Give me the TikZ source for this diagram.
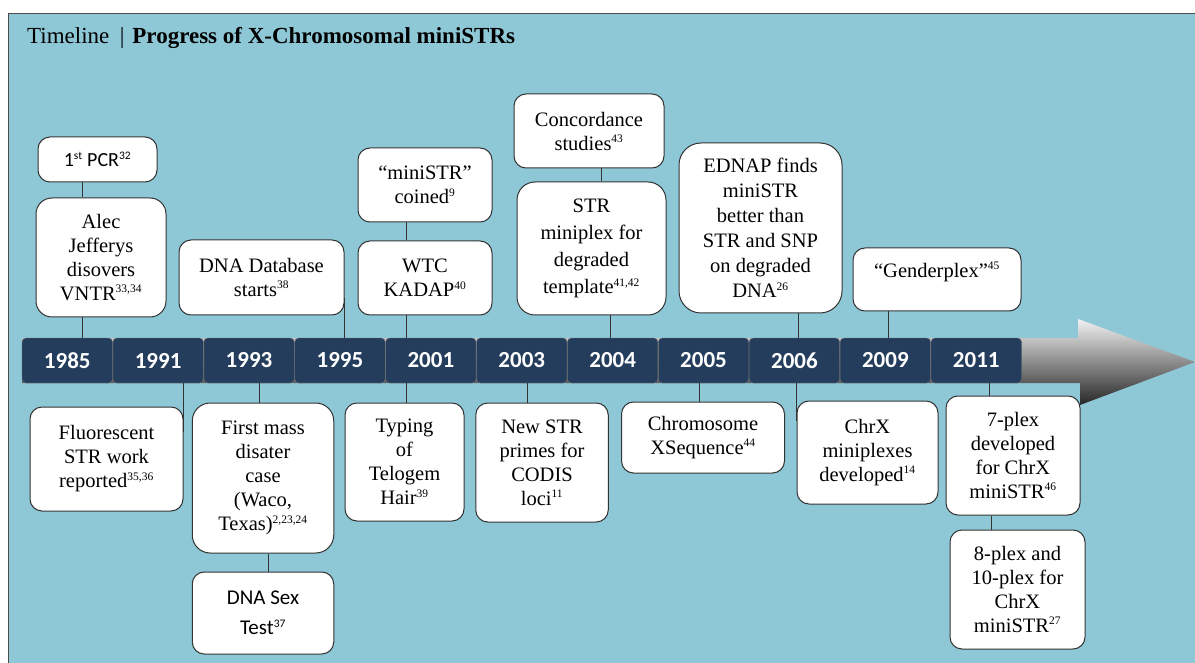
\documentclass[tikz,border=0pt]{standalone}
\usepackage{fontspec}
\setmainfont{Liberation Serif}
\newfontfamily\calfont{Carlito}
\usetikzlibrary{positioning}
\definecolor{panelblue}{RGB}{142,200,215}
\definecolor{yearnavy}{RGB}{36,61,92}
\newcommand{\refnum}[1]{\textsuperscript{\fontsize{11.5}{12}\selectfont #1}}
\tikzset{
    event/.style={
           rectangle, rounded corners=12pt,
           draw=black!80, line width=1pt,
           fill=white,
           align=center,
           inner sep=2pt,
           font=\fontsize{20.5}{24}\selectfont,
           },
}
\tikzset{
    yearbox/.style={
           rectangle, rounded corners=4pt,
           draw=black!55, thin,
           fill=yearnavy,
           minimum width=90.5pt, minimum height=45pt,
           inner sep=0pt, text=white,
           font=\calfont\bfseries\fontsize{23}{26}\selectfont,
           },
}
\tikzset{
    link/.style={
           draw=black!80, line width=1pt,
           },
}

\begin{document}
\begin{tikzpicture}[x=1pt,y=-1pt]
\useasboundingbox (0,0) rectangle (1195,663);
\fill[white] (0,0) rectangle (1195,663);
\filldraw[fill=panelblue,draw=black!70,line width=1pt] (8,14) rectangle (1215,690);
\node[anchor=base west,inner sep=0pt,font=\fontsize{23}{26}\selectfont] (title) at (27,44)
    {Timeline\hspace{0.45em}|\hspace{0.35em}\textbf{Progress of X-Chromosomal miniSTRs}};

% arrow under the years
\shade[top color=gray!10,middle color=gray!55,bottom color=black!85]
    (22,338) -- (1078,338) -- (1078,319) -- (1195,362) -- (1080,405) -- (1080,383) -- (22,383) -- cycle;

\node[yearbox](y1985) at (67.25,360.5){1985};
\node[yearbox,right=0pt of y1985](y1991){1991};
\node[yearbox,right=0pt of y1991](y1993){1993};
\node[yearbox,right=0pt of y1993](y1995){1995};
\node[yearbox,right=0pt of y1995](y2001){2001};
\node[yearbox,right=0pt of y2001](y2003){2003};
\node[yearbox,right=0pt of y2003](y2004){2004};
\node[yearbox,right=0pt of y2004](y2005){2005};
\node[yearbox,right=0pt of y2005](y2006){2006};
\node[yearbox,right=0pt of y2006](y2009){2009};
\node[yearbox,right=0pt of y2009](y2011){2011};

% above the line
\node[event,rounded corners=16pt,minimum width=130pt,minimum height=119pt](alec) at (101,257.5){Alec\\Jefferys\\disovers\\VNTR\refnum{33,34}};
\node[event,minimum width=119pt,minimum height=45pt,font=\calfont\fontsize{20}{24}\selectfont,above=15pt of alec,xshift=-3.5pt](pcr){1\refnum{st} PCR\refnum{32}};
\node[event,minimum width=165pt,minimum height=75pt](dbase) at (261.5,277.5){DNA Database\\starts\refnum{38}};
\node[event,minimum width=134pt,minimum height=74pt](wtc) at (425,278){WTC\\KADAP\refnum{40}};
\node[event,minimum width=134pt,minimum height=74pt,above=18pt of wtc](coined){“miniSTR”\\coined\refnum{9}};
\node[event,rounded corners=18pt,minimum width=149pt,minimum height=133pt,font=\fontsize{20.5}{27}\selectfont](miniplex) at (591.5,248.5){STR\\miniplex for\\degraded\\template\refnum{41,42}};
\node[event,minimum width=150pt,minimum height=74pt,above=13pt of miniplex,xshift=-2.5pt](concord){Concordance\\studies\refnum{43}};
\node[event,rounded corners=22pt,minimum width=163pt,minimum height=170pt,font=\fontsize{20.5}{25}\selectfont](ednap) at (760.5,228){EDNAP finds\\miniSTR\\better than\\STR and SNP\\on degraded\\DNA\refnum{26}};
\node[event,minimum width=168pt,minimum height=63pt,text depth=20pt](gender) at (937,279.5){“Genderplex”\refnum{45}};

% below the line
\node[event,minimum width=153pt,minimum height=104pt](fluor) at (106.5,459){Fluorescent\\STR work\\reported\refnum{35,36}};
\node[event,rounded corners=18pt,minimum width=141.5pt,minimum height=150pt](mass) at (263,478){First mass\\disater\\case\\(Waco,\\Texas)\refnum{2,23,24}};
\node[event,minimum width=141.5pt,minimum height=82pt,font=\calfont\fontsize{21}{30}\selectfont,below=18pt of mass](sextest){DNA Sex\\Test\refnum{37}};
\node[event,minimum width=119pt,minimum height=118pt](telogen) at (404.5,462){Typing\\of\\Telogem\\Hair\refnum{39}};
\node[event,minimum width=132.5pt,minimum height=119pt](primes) at (542,462.5){New STR\\primes for\\CODIS\\loci\refnum{11}};
\node[event,minimum width=163pt,minimum height=71pt](xseq) at (703,437.5){Chromosome\\XSequence\refnum{44}};
\node[event,minimum width=141pt,minimum height=103pt](chrx) at (867.5,452.5){ChrX\\miniplexes\\developed\refnum{14}};
\node[event,minimum width=134pt,minimum height=119pt](seven) at (1013,455.5){7-plex\\developed\\for ChrX\\miniSTR\refnum{46}};
\node[event,minimum width=135pt,minimum height=119pt,below=14pt of seven,xshift=4.5pt](eight){8-plex and\\10-plex for\\ChrX\\miniSTR\refnum{27}};

% connectors
\draw[link] ([xshift=-15.5pt]pcr.south) -- ([xshift=-15.5pt]pcr.south |- alec.north);
\draw[link] ([xshift=-19pt]alec.south) -- ([xshift=-19pt]alec.south |- y1985.north);
\draw[link] ([yshift=17pt]dbase.south east) -- (dbase.south east |- y1995.north);
\draw[link] ([xshift=-19pt]coined.south) -- ([xshift=-19pt]coined.south |- wtc.north);
\draw[link] ([xshift=-19pt]wtc.south) -- ([xshift=-19pt]wtc.south |- y2001.north);
\draw[link] ([xshift=12pt]concord.south) -- ([xshift=12pt]concord.south |- miniplex.north);
\draw[link] ([xshift=18.5pt]miniplex.south) -- ([xshift=18.5pt]miniplex.south |- y2004.north);
\draw[link] ([xshift=37.5pt]ednap.south) -- ([xshift=37.5pt]ednap.south |- y2006.north);
\draw[link] ([xshift=-48.5pt]gender.south) -- ([xshift=-48.5pt]gender.south |- y2009.north);
\draw[link] ([yshift=-25pt]fluor.north east) -- (fluor.north east |- y1991.south);
\draw[link] ([xshift=-3.5pt]mass.north) -- ([xshift=-3.5pt]mass.north |- y1993.south);
\draw[link] ([xshift=5pt]mass.south) -- ([xshift=5pt]mass.south |- sextest.north);
\draw[link] ([xshift=1.5pt]telogen.north) -- ([xshift=1.5pt]telogen.north |- y2001.south);
\draw[link] ([xshift=-14.5pt]primes.north) -- ([xshift=-14.5pt]primes.north |- y2003.south);
\draw[link] ([xshift=-3.5pt]xseq.north) -- ([xshift=-3.5pt]xseq.north |- y2005.south);
\draw[link] ([yshift=-20pt]chrx.north west) -- (chrx.north west |- y2006.south);
\draw[link] ([xshift=-24pt]seven.north) -- ([xshift=-24pt]seven.north |- y2011.south);
\draw[link] ([xshift=-22pt]seven.south) -- ([xshift=-22pt]seven.south |- eight.north);
\end{tikzpicture}
\end{document}
